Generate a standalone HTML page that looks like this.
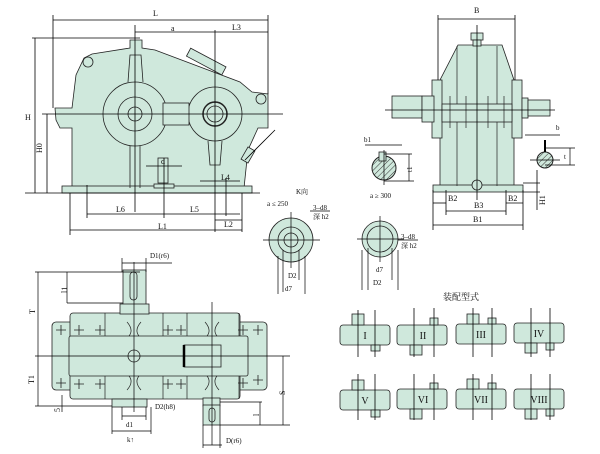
<!DOCTYPE html>
<html><head><meta charset="utf-8"><style>
html,body{margin:0;padding:0;background:#fff}
svg{display:block}
text{font-family:"Liberation Serif","Noto Serif CJK SC",serif;fill:#111}
</style></head><body>
<svg width="600" height="454" viewBox="0 0 600 454" xmlns="http://www.w3.org/2000/svg">
<defs>
<pattern id="h" width="4" height="4" patternUnits="userSpaceOnUse" patternTransform="rotate(45)"><rect width="4" height="4" fill="#cfe8dc"/><line x1="0" y1="0" x2="0" y2="4" stroke="#333" stroke-width="1"/></pattern>
<path id="pl" d="M-5,0 H5 M0,-5 V5" stroke="#222" stroke-width="0.8" fill="none"/>
</defs>
<g stroke="#222" stroke-width="0.8" fill="#cfe8dc">
<path d="M72,190 L72,128 L60,128 L56,120 L55,108 L72,108 L76,75 L84,58 L92,54 L130,48 L130,40 L142,40 L142,48 L155,50 L240,82 L252,92 L268,94 L268,128 L258,128 L248,150 L244,188 L72,188 Z"/>
<rect x="62" y="186" width="190" height="7"/>
<circle cx="135" cy="114" r="32"/><circle cx="135" cy="114" r="17"/><circle cx="135" cy="114" r="7"/>
<circle cx="215" cy="114" r="27"/><circle cx="215" cy="114" r="12" stroke-width="1.5"/><circle cx="215" cy="114" r="8"/>
<rect x="163" y="103" width="26" height="22"/>
<path d="M128,82 L130,55 L141,55 L143,82" fill="none"/>
<path d="M130,146 L130,188 M140,146 L140,188" fill="none"/>
<path d="M208,141 L210,165 L220,165 L222,141" fill="none"/>
<circle cx="88" cy="62" r="5"/><circle cx="261" cy="99" r="5"/>
<rect x="186" y="57" width="40" height="9" transform="rotate(28 206 62)"/>
<rect x="158" y="158" width="10" height="25"/><rect x="154" y="184" width="20" height="4"/>
<rect x="244" y="148" width="8" height="14" transform="rotate(30 248 155)"/>
</g>
<g stroke="#000" stroke-width="0.8" fill="none">
<line x1="42" y1="114" x2="283" y2="114"/><line x1="135" y1="25" x2="135" y2="212"/><line x1="215" y1="30" x2="215" y2="232"/>
<line x1="53" y1="15" x2="53" y2="108"/><line x1="268" y1="15" x2="268" y2="94"/>
<line x1="53" y1="20" x2="268" y2="20"/><line x1="135" y1="32" x2="268" y2="32"/>
<line x1="32" y1="38" x2="140" y2="38"/><line x1="35" y1="38" x2="35" y2="193"/><line x1="47" y1="114" x2="47" y2="193"/>
<line x1="25" y1="193" x2="260" y2="193"/>
<line x1="87" y1="185" x2="87" y2="218"/><line x1="87" y1="214" x2="240" y2="214"/><line x1="70" y1="193" x2="70" y2="235"/>
<line x1="70" y1="230" x2="242" y2="230"/><line x1="242" y1="193" x2="242" y2="232"/><line x1="164" y1="158" x2="164" y2="218"/>
<line x1="200" y1="181" x2="240" y2="181"/><line x1="226" y1="178" x2="226" y2="216"/><line x1="215" y1="220" x2="242" y2="220"/>
<line x1="146" y1="166" x2="182" y2="166"/><line x1="245" y1="160" x2="275" y2="130"/>
</g>
<g font-size="8">
<text x="153" y="16">L</text><text x="171" y="31">a</text><text x="232" y="30">L3</text>
<text x="25" y="120">H</text><text x="37" y="152" transform="rotate(-90 40 150)">H0</text>
<text x="161" y="164">d</text><text x="116" y="212">L6</text><text x="190" y="212">L5</text><text x="221" y="180">L4</text>
<text x="158" y="229">L1</text><text x="224" y="227">L2</text>
</g>
<g stroke="#222" stroke-width="0.8" fill="#cfe8dc">
<path d="M440,190 L440,80 L458,45 L502,45 L514,80 L514,190 Z"/>
<rect x="432" y="80" width="10" height="58"/><rect x="512" y="80" width="10" height="58"/>
<rect x="392" y="96" width="30" height="22"/><rect x="422" y="96" width="12" height="26"/>
<rect x="522" y="98" width="6" height="20"/><rect x="528" y="100" width="22" height="16"/>
<rect x="442" y="104" width="70" height="18"/>
<rect x="433" y="185" width="90" height="7"/>
<rect x="471" y="33" width="12" height="7"/><rect x="473" y="40" width="8" height="6"/>
<circle cx="477" cy="185" r="5"/>
</g>
<g stroke="#222" stroke-width="0.7" fill="none">
<line x1="457" y1="46" x2="457" y2="104"/><line x1="497" y1="46" x2="497" y2="104"/>
<line x1="457" y1="122" x2="457" y2="186"/><line x1="497" y1="122" x2="497" y2="186"/>
<line x1="450" y1="96" x2="450" y2="128"/><line x1="466" y1="96" x2="466" y2="128"/><line x1="488" y1="96" x2="488" y2="128"/><line x1="504" y1="96" x2="504" y2="128"/>
</g>
<g stroke="#000" stroke-width="0.8" fill="none">
<line x1="438" y1="15" x2="438" y2="80"/><line x1="515" y1="15" x2="515" y2="80"/><line x1="438" y1="19" x2="515" y2="19"/>
<line x1="385" y1="110" x2="555" y2="110"/><line x1="477" y1="25" x2="477" y2="200"/>
<line x1="433" y1="190" x2="433" y2="230"/><line x1="523" y1="190" x2="523" y2="230"/><line x1="433" y1="225" x2="523" y2="225"/>
<line x1="446" y1="190" x2="446" y2="215"/><line x1="506" y1="190" x2="506" y2="215"/><line x1="446" y1="211" x2="506" y2="211"/>
<line x1="433" y1="203" x2="446" y2="203"/><line x1="506" y1="203" x2="523" y2="203"/>
<line x1="523" y1="183" x2="540" y2="183"/><line x1="523" y1="192" x2="540" y2="192"/><line x1="537" y1="170" x2="537" y2="210"/>
</g>
<g font-size="8"><text x="474" y="13">B</text><text x="448" y="201">B2</text><text x="508" y="201">B2</text><text x="474" y="208">B3</text><text x="473" y="222">B1</text>
<text x="540" y="210" transform="rotate(-90 540 205)">H1</text></g>
<circle cx="384" cy="168" r="12" fill="url(#h)" stroke="#222"/><rect x="379" y="152" width="7" height="9" fill="#cfe8dc" stroke="#222" stroke-width="0.8"/>
<circle cx="545" cy="160" r="8" fill="url(#h)" stroke="#222"/><line x1="545" y1="140" x2="545" y2="152" stroke="#000" stroke-width="2"/>
<g stroke="#000" stroke-width="0.7" fill="none"><line x1="365" y1="145" x2="402" y2="145"/><line x1="384" y1="154" x2="412" y2="154"/><line x1="384" y1="181" x2="414" y2="181"/><line x1="409" y1="154" x2="409" y2="181"/>
<line x1="525" y1="135" x2="560" y2="135"/><line x1="545" y1="148" x2="575" y2="148"/><line x1="545" y1="165" x2="575" y2="165"/><line x1="570" y1="148" x2="570" y2="165"/>
<line x1="384" y1="150" x2="384" y2="185"/><line x1="530" y1="160" x2="560" y2="160"/></g>
<g font-size="7"><text x="364" y="142">b1</text><text x="404" y="172" transform="rotate(-90 408 168)">t1</text><text x="370" y="198">a ≥ 300</text><text x="556" y="130">b</text><text x="564" y="159">t</text></g>
<g font-size="7"><text x="296" y="194">K向</text><text x="267" y="206">a ≤ 250</text><text x="313" y="210">3–d8</text><text x="313" y="219">深 h2</text>
<text x="401" y="239">3–d8</text><text x="401" y="248">深 h2</text><text x="288" y="278">D2</text><text x="285" y="291">d7</text><text x="376" y="272">d7</text><text x="373" y="285">D2</text></g>
<g stroke="#222" stroke-width="0.8" fill="#cfe8dc"><circle cx="291" cy="240" r="22"/><circle cx="291" cy="240" r="13"/><circle cx="291" cy="240" r="7"/>
<circle cx="380" cy="239" r="18"/><circle cx="380" cy="239" r="13" fill="none"/></g>
<g stroke="#000" stroke-width="0.7" fill="none"><line x1="263" y1="240" x2="320" y2="240"/><line x1="291" y1="212" x2="291" y2="268"/>
<line x1="283" y1="250" x2="283" y2="292"/><line x1="299" y1="250" x2="299" y2="280"/><line x1="278" y1="256" x2="278" y2="294"/><line x1="305" y1="256" x2="305" y2="294"/>
<line x1="357" y1="239" x2="404" y2="239"/><line x1="380" y1="216" x2="380" y2="262"/><line x1="368" y1="248" x2="368" y2="290"/><line x1="392" y1="248" x2="392" y2="280"/><line x1="362" y1="250" x2="362" y2="290"/><line x1="398" y1="250" x2="398" y2="290"/>
<line x1="310" y1="211" x2="330" y2="211"/><line x1="398" y1="240" x2="418" y2="240"/></g>
<g stroke="#222" stroke-width="0.8" fill="#cfe8dc">
<rect x="52" y="322" width="215" height="68" rx="4"/>
<rect x="70" y="313" width="170" height="86" rx="3"/>
<rect x="69" y="336" width="179" height="40" rx="2"/>
<rect x="123" y="270" width="23" height="35"/><rect x="120" y="304" width="29" height="10"/>
<rect x="112" y="399" width="35" height="8"/>
<rect x="203" y="398" width="17" height="8"/><rect x="203" y="405" width="17" height="20"/>
<rect x="184" y="345" width="37" height="22"/>
<circle cx="134" cy="356" r="6"/>
<rect x="130" y="272" width="7" height="28" rx="3.5"/><rect x="209" y="408" width="6" height="14" rx="3"/>
</g>
<g stroke="#222" stroke-width="0.7" fill="none">
<path d="M105,313 V336 M163,313 V336 M105,376 V399 M163,376 V399 M187,313 V336 M239,313 V336 M187,376 V399 M239,376 V399"/>
<path d="M127,322 Q134,330 129,336 M141,322 Q134,330 139,336 M127,390 Q134,382 129,376 M141,390 Q134,382 139,376"/>
<path d="M205,322 Q212,330 207,336 M219,322 Q212,330 217,336 M205,390 Q212,382 207,376 M219,390 Q212,382 217,376"/>
</g>
<g>
<use href="#pl" x="61" y="330"/><use href="#pl" x="79" y="330"/><use href="#pl" x="100" y="330"/><use href="#pl" x="168" y="330"/><use href="#pl" x="181" y="330"/><use href="#pl" x="243" y="330"/><use href="#pl" x="258" y="330"/>
<use href="#pl" x="61" y="383"/><use href="#pl" x="79" y="384"/><use href="#pl" x="100" y="384"/><use href="#pl" x="168" y="384"/><use href="#pl" x="181" y="384"/><use href="#pl" x="243" y="383"/><use href="#pl" x="258" y="380"/>
</g>
<line x1="184" y1="345" x2="184" y2="367" stroke="#000" stroke-width="2.5"/>
<g stroke="#000" stroke-width="0.7" fill="none">
<line x1="35" y1="356" x2="290" y2="356"/><line x1="134" y1="262" x2="134" y2="412"/><line x1="212" y1="302" x2="212" y2="445"/>
<line x1="35" y1="272" x2="140" y2="272"/><line x1="38" y1="272" x2="38" y2="406"/><line x1="35" y1="406" x2="112" y2="406"/>
<line x1="67" y1="272" x2="67" y2="303"/><line x1="67" y1="303" x2="123" y2="303"/>
<line x1="122" y1="258" x2="122" y2="272"/><line x1="146" y1="258" x2="146" y2="272"/><line x1="122" y1="263" x2="172" y2="263"/>
<line x1="122" y1="407" x2="122" y2="420"/><line x1="146" y1="407" x2="146" y2="420"/><line x1="122" y1="416" x2="146" y2="416"/>
<line x1="112" y1="407" x2="112" y2="434"/><line x1="151" y1="407" x2="151" y2="434"/><line x1="112" y1="431" x2="151" y2="431"/>
<line x1="203" y1="425" x2="203" y2="448"/><line x1="220" y1="425" x2="220" y2="448"/><line x1="203" y1="445" x2="222" y2="445"/>
<line x1="220" y1="402" x2="262" y2="402"/><line x1="220" y1="425" x2="290" y2="425"/><line x1="260" y1="402" x2="260" y2="425"/><line x1="283" y1="356" x2="283" y2="425"/>
<line x1="62" y1="395" x2="62" y2="412"/>
</g>
<g font-size="7"><text x="150" y="258">D1(r6)</text><text x="155" y="409">D2(h8)</text><text x="126" y="427">d1</text><text x="127" y="442">k↑</text><text x="226" y="443">D(r6)</text></g>
<g font-size="8"><text x="62" y="292" transform="rotate(-90 65 290)">l1</text><text x="31" y="316" transform="rotate(-90 32 313)">T</text><text x="30" y="386" transform="rotate(-90 31 383)">T1</text>
<text x="57" y="413" transform="rotate(-90 58 411)">5</text><text x="255" y="418" transform="rotate(-90 256 415)">l</text><text x="282" y="398" transform="rotate(-90 282 395)">S</text></g>
<text x="443" y="300" font-size="9">装配型式</text>
<g stroke="#222" stroke-width="0.8" fill="#cfe8dc">
<rect x="340" y="325" width="50" height="20" rx="3"/><rect x="352" y="314" width="12" height="11"/><rect x="371" y="345" width="9" height="6"/>
<rect x="397" y="325" width="50" height="20" rx="3"/><rect x="410" y="345" width="12" height="10"/><rect x="430" y="318" width="8" height="7"/>
<rect x="456" y="324" width="50" height="20" rx="3"/><rect x="467" y="314" width="12" height="10"/><rect x="488" y="318" width="8" height="6"/>
<rect x="514" y="323" width="50" height="20" rx="3"/><rect x="525" y="343" width="12" height="10"/><rect x="546" y="343" width="8" height="7"/>
<rect x="340" y="390" width="50" height="20" rx="3"/><rect x="352" y="380" width="12" height="10"/><rect x="371" y="410" width="9" height="7"/>
<rect x="397" y="389" width="50" height="20" rx="3"/><rect x="410" y="409" width="12" height="10"/><rect x="430" y="383" width="8" height="6"/>
<rect x="456" y="389" width="50" height="20" rx="3"/><rect x="467" y="379" width="12" height="10"/><rect x="488" y="383" width="8" height="6"/>
<rect x="514" y="389" width="50" height="20" rx="3"/><rect x="525" y="409" width="12" height="10"/><rect x="546" y="409" width="8" height="7"/>
</g>
<g stroke="#000" stroke-width="0.8">
<line x1="358" y1="310" x2="358" y2="357"/><line x1="375" y1="310" x2="375" y2="357"/>
<line x1="414" y1="308" x2="414" y2="357"/><line x1="434" y1="308" x2="434" y2="357"/>
<line x1="473" y1="308" x2="473" y2="357"/><line x1="492" y1="308" x2="492" y2="357"/>
<line x1="531" y1="308" x2="531" y2="357"/><line x1="550" y1="308" x2="550" y2="357"/>
<line x1="358" y1="374" x2="358" y2="420"/><line x1="375" y1="374" x2="375" y2="420"/>
<line x1="414" y1="374" x2="414" y2="420"/><line x1="434" y1="374" x2="434" y2="420"/>
<line x1="473" y1="374" x2="473" y2="420"/><line x1="492" y1="374" x2="492" y2="420"/>
<line x1="531" y1="374" x2="531" y2="420"/><line x1="550" y1="374" x2="550" y2="420"/>
</g>
<g font-size="10" text-anchor="middle"><text x="365" y="339">I</text><text x="423" y="339">II</text><text x="481" y="338">III</text><text x="539" y="337">IV</text>
<text x="365" y="404">V</text><text x="423" y="403">VI</text><text x="481" y="403">VII</text><text x="539" y="403">VIII</text></g>
</svg>
</body></html>
